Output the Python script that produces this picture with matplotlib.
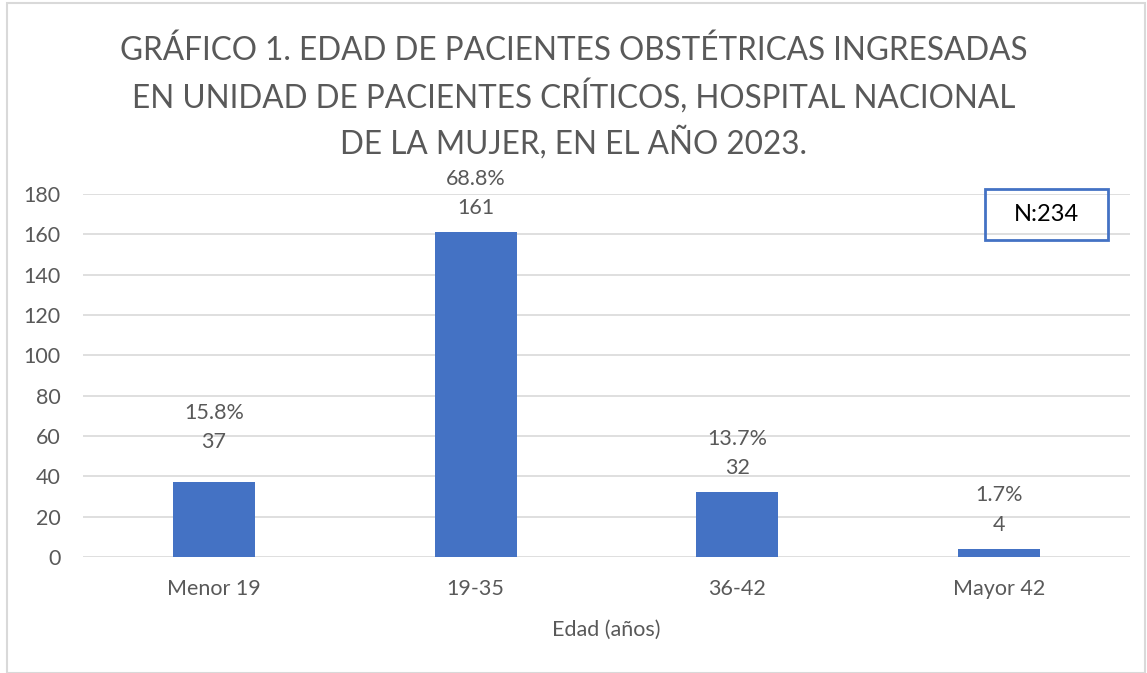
import matplotlib.pyplot as plt
import numpy as np
from matplotlib.patches import Rectangle

categorias = ["Menor 19", "19-35", "36-42", "Mayor 42"]
pacientes = [37, 161, 32, 4]
porcentajes = ["15.8%", "68.8%", "13.7%", "1.7%"]
total = 234

titulo = ("GRÁFICO 1. EDAD DE PACIENTES OBSTÉTRICAS INGRESADAS\n"
          "EN UNIDAD DE PACIENTES CRÍTICOS, HOSPITAL NACIONAL\n"
          "DE LA MUJER, EN EL AÑO 2023.")

# the first label was lifted a bit in the original
extra_pts = [11.5, 0, 0, 0]

plt.rcParams['font.family'] = ['Lato', 'DejaVu Sans']
gris = '#595959'

fig = plt.figure(figsize=(11.47, 6.73), dpi=100)
ax = fig.add_axes([0.0724, 0.1724, 0.9126, 0.5393])

X = np.arange(len(categorias))
ax.bar(X, pacientes, width=0.313, color='#4472C4', zorder=3)
ax.set_xlim(-0.5, len(categorias) - 0.5)
ax.set_ylim(0, 180)
ax.set_yticks(np.arange(0, 181, 20))
ax.set_xticks(X, categorias)
ax.grid(axis='y', color='#d9d9d9', linewidth=1.2, zorder=0)
for s in ax.spines.values():
    s.set_visible(False)
ax.tick_params(length=0, labelsize=15.5, labelcolor=gris)
ax.tick_params(axis='y', pad=16)
ax.tick_params(axis='x', pad=16)
ax.set_xlabel('Edad (años)', fontsize=15.5, color=gris, labelpad=15)

for x, v, p, e in zip(X, pacientes, porcentajes, extra_pts):
    ax.annotate(str(v), (x, v), xytext=(0, 17.3 + e), textcoords='offset points',
                ha='center', va='center', fontsize=15.5, color=gris)
    ax.annotate(p, (x, v), xytext=(0, 38.5 + e), textcoords='offset points',
                ha='center', va='center', fontsize=15.5, color=gris)

fig.text(0.5, 0.855, titulo, ha='center', va='center', fontsize=22.7,
         color=gris, linespacing=1.43)

fig.text(0.9124, 0.681, "N:" + str(total), ha='center', va='center',
         fontsize=17, color='black')
fig.patches.append(Rectangle((985 / 1147, 1 - 240 / 673), 123 / 1147, 51 / 673,
                             transform=fig.transFigure, fill=False,
                             edgecolor='#4472C4', linewidth=2))
fig.patches.append(Rectangle((7 / 1147, 0), 1138 / 1147, 1 - 3 / 673,
                             transform=fig.transFigure, fill=False,
                             edgecolor='#d9d9d9', linewidth=1.5))

fig.savefig('out.png', dpi=100)
